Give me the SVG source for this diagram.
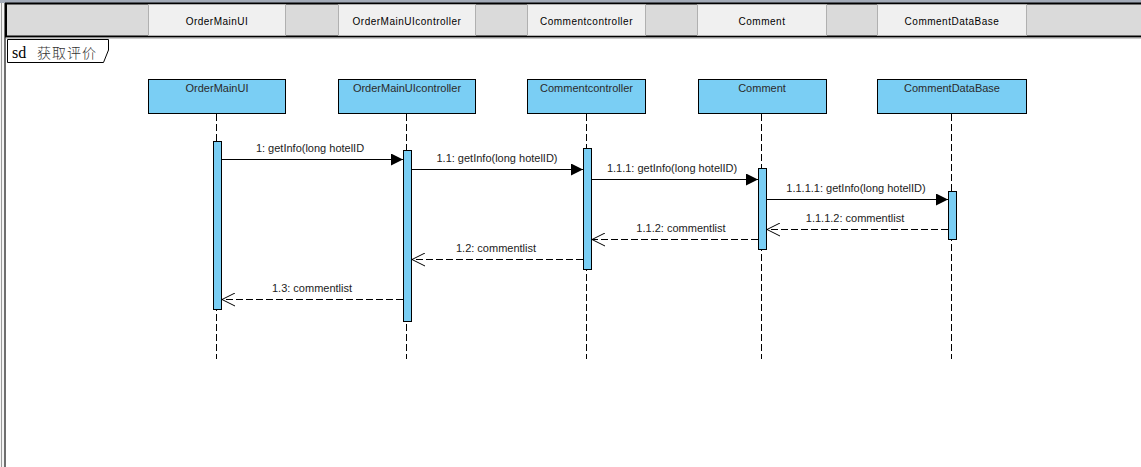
<svg xmlns="http://www.w3.org/2000/svg" width="1141" height="467" viewBox="0 0 1141 467">
  <style>
    .hdr-cell { fill: #f0f0f0; stroke: #b0b0b0; stroke-width: 1; }
    .hdr-text { font-family: "Liberation Sans", Arial, sans-serif; font-size: 10px; letter-spacing: 0.5px; fill: #000; text-anchor: middle; }
    .head { fill: #7acef4; stroke: #000; stroke-width: 1; }
    .head-text { font-family: "Liberation Sans", Arial, sans-serif; font-size: 11px; fill: #2b2b2b; text-anchor: middle; }
    .life { stroke: #000; stroke-width: 1; stroke-dasharray: 7 3; fill: none; }
    .act { fill: #7acef4; stroke: #000; stroke-width: 1; }
    .msg { stroke: #000; stroke-width: 1; fill: none; }
    .ret { stroke: #000; stroke-width: 1; fill: none; stroke-dasharray: 7 3; }
    .lbl { font-family: "Liberation Sans", Arial, sans-serif; font-size: 11px; fill: #222; text-anchor: middle; }
  </style>
  <defs>
    <marker id="sync" viewBox="0 0 12 12" refX="12" refY="6" markerWidth="12" markerHeight="12" markerUnits="userSpaceOnUse" orient="auto">
      <path d="M0,0 L12,6 L0,12 Z" fill="#000"/>
    </marker>
    <marker id="open" viewBox="0 0 14 14" refX="13" refY="7" markerWidth="14" markerHeight="14" markerUnits="userSpaceOnUse" orient="auto">
      <path d="M0,0.5 L13,7 L0,13.5" fill="none" stroke="#000" stroke-width="1"/>
    </marker>
  </defs>

  <!-- canvas and window edge -->
  <rect x="0" y="0" width="1141" height="467" fill="#ffffff"/>
  <rect x="0" y="0" width="1141" height="3" fill="#a3abb8"/>
  <rect x="0" y="3" width="6" height="464" fill="#f4f4f4"/>
  <line x1="1.5" y1="3" x2="1.5" y2="467" stroke="#9a9a9a"/>
  <rect x="4" y="3" width="2" height="464" fill="#6e6e6e"/>

  <!-- lifeline header strip -->
  <g id="header">
    <rect x="6" y="3.5" width="1136" height="33" fill="#dadada" stroke="#000" stroke-width="2"/>
    <line x1="6" y1="38" x2="1141" y2="38" stroke="#9a9a9a"/>
    <rect class="hdr-cell" x="148.5" y="4.5" width="137" height="31"/>
    <rect class="hdr-cell" x="338.5" y="4.5" width="137" height="31"/>
    <rect class="hdr-cell" x="527.5" y="4.5" width="118" height="31"/>
    <rect class="hdr-cell" x="697.5" y="4.5" width="129" height="31"/>
    <rect class="hdr-cell" x="877.5" y="4.5" width="149" height="31"/>
    <text class="hdr-text" x="217" y="25">OrderMainUI</text>
    <text class="hdr-text" x="407" y="25">OrderMainUIcontroller</text>
    <text class="hdr-text" x="586.5" y="25">Commentcontroller</text>
    <text class="hdr-text" x="762" y="25">Comment</text>
    <text class="hdr-text" x="952" y="25">CommentDataBase</text>
  </g>

  <!-- frame tag -->
  <g id="frame">
    <path d="M7.5,39.5 H108.5 V50 L103.5,62.5 H7.5 Z" fill="#fff" stroke="#000"/>
    <text y="58" font-family="'Liberation Serif', 'Noto Sans CJK SC', serif" font-size="16" fill="#000"><tspan x="12">sd</tspan><tspan x="37" font-size="14" font-family="'Noto Sans CJK SC', sans-serif" font-weight="300" fill="#333" letter-spacing="1">获取评价</tspan></text>
  </g>

  <!-- lifelines -->
  <g id="lifeline-OrderMainUI">
    <line class="life" x1="216.5" y1="114" x2="216.5" y2="359"/>
    <rect class="head" x="148.5" y="79.5" width="137" height="34"/>
    <text class="head-text" x="217" y="92">OrderMainUI</text>
    <rect class="act" x="213.5" y="141.5" width="8" height="168"/>
  </g>
  <g id="lifeline-OrderMainUIcontroller">
    <line class="life" x1="406.5" y1="114" x2="406.5" y2="359"/>
    <rect class="head" x="338.5" y="79.5" width="137" height="34"/>
    <text class="head-text" x="407" y="92">OrderMainUIcontroller</text>
    <rect class="act" x="403.5" y="150.5" width="8" height="171"/>
  </g>
  <g id="lifeline-Commentcontroller">
    <line class="life" x1="586.5" y1="114" x2="586.5" y2="359"/>
    <rect class="head" x="527.5" y="79.5" width="118" height="34"/>
    <text class="head-text" x="586.5" y="92">Commentcontroller</text>
    <rect class="act" x="583.5" y="148.5" width="8" height="121"/>
  </g>
  <g id="lifeline-Comment">
    <line class="life" x1="761.5" y1="114" x2="761.5" y2="359"/>
    <rect class="head" x="698.5" y="79.5" width="128" height="34"/>
    <text class="head-text" x="762" y="92">Comment</text>
    <rect class="act" x="758.5" y="168.5" width="8" height="81"/>
  </g>
  <g id="lifeline-CommentDataBase">
    <line class="life" x1="951.5" y1="114" x2="951.5" y2="359"/>
    <rect class="head" x="877.5" y="79.5" width="149" height="34"/>
    <text class="head-text" x="952" y="92">CommentDataBase</text>
    <rect class="act" x="948.5" y="191.5" width="8" height="48"/>
  </g>

  <!-- messages -->
  <g id="connectors">
    <line class="msg" x1="222" y1="159.5" x2="403" y2="159.5" marker-end="url(#sync)"/>
    <line class="msg" x1="412" y1="169.5" x2="583" y2="169.5" marker-end="url(#sync)"/>
    <line class="msg" x1="592" y1="179.5" x2="758" y2="179.5" marker-end="url(#sync)"/>
    <line class="msg" x1="767" y1="199.5" x2="948" y2="199.5" marker-end="url(#sync)"/>
    <line class="ret" x1="948" y1="229.5" x2="767" y2="229.5" marker-end="url(#open)"/>
    <line class="ret" x1="758" y1="239.5" x2="592" y2="239.5" marker-end="url(#open)"/>
    <line class="ret" x1="583" y1="259.5" x2="412" y2="259.5" marker-end="url(#open)"/>
    <line class="ret" x1="403" y1="299.5" x2="222" y2="299.5" marker-end="url(#open)"/>

    <text class="lbl" x="310" y="152">1: getInfo(long hotelID</text>
    <text class="lbl" x="497" y="162">1.1: getInfo(long hotelID)</text>
    <text class="lbl" x="672" y="172">1.1.1: getInfo(long hotelID)</text>
    <text class="lbl" x="856" y="192">1.1.1.1: getInfo(long hotelID)</text>
    <text class="lbl" x="855" y="222">1.1.1.2: commentlist</text>
    <text class="lbl" x="681" y="232">1.1.2: commentlist</text>
    <text class="lbl" x="496" y="252">1.2: commentlist</text>
    <text class="lbl" x="312" y="292">1.3: commentlist</text>
  </g>
</svg>
